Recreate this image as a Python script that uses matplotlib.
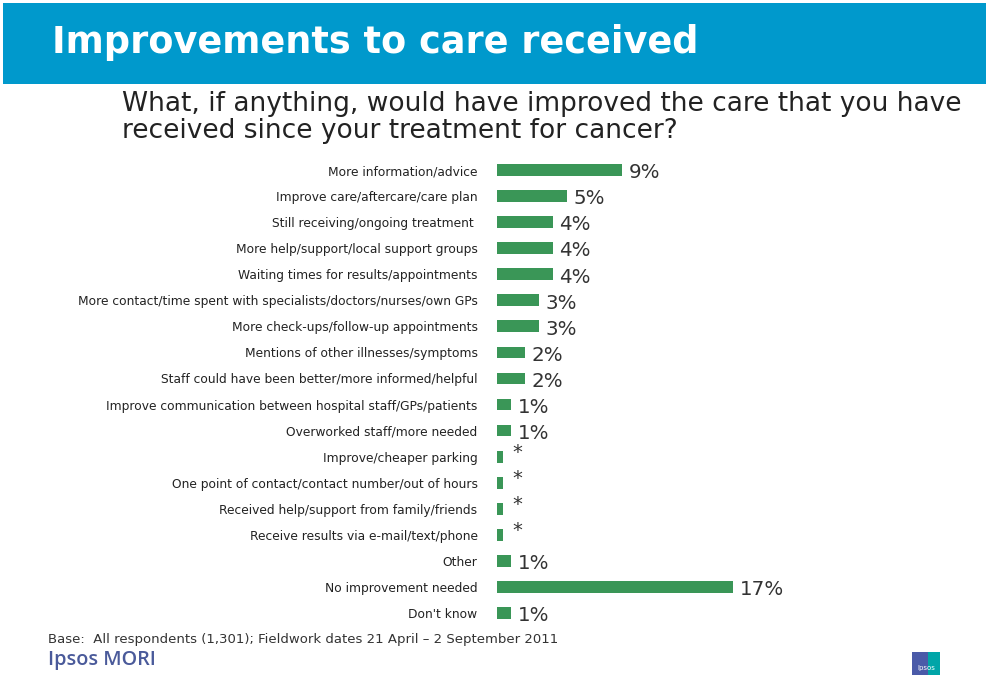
import matplotlib.pyplot as plt
from matplotlib.patches import Rectangle

# data
labels = ['More information/advice', 'Improve care/aftercare/care plan',
          'Still receiving/ongoing treatment ', 'More help/support/local support groups',
          'Waiting times for results/appointments',
          'More contact/time spent with specialists/doctors/nurses/own GPs',
          'More check-ups/follow-up appointments', 'Mentions of other illnesses/symptoms',
          'Staff could have been better/more informed/helpful',
          'Improve communication between hospital staff/GPs/patients',
          'Overworked staff/more needed', 'Improve/cheaper parking',
          'One point of contact/contact number/out of hours',
          'Received help/support from family/friends',
          'Receive results via e-mail/text/phone', 'Other',
          'No improvement needed', "Don't know"]
values = [9, 5, 4, 4, 4, 3, 3, 2, 2, 1, 1, 0.4, 0.4, 0.4, 0.4, 1, 17, 1]
value_text = ['9%', '5%', '4%', '4%', '4%', '3%', '3%', '2%', '2%', '1%', '1%',
              '*', '*', '*', '*', '1%', '17%', '1%']

plt.rcParams['font.family'] = ['DejaVu Sans']

W, H = 989, 675
fig = plt.figure(figsize=(W / 100, H / 100), dpi=100)

def fy(py):
    return 1 - py / H

# blue header band
fig.patches.append(Rectangle((3 / W, fy(84)), 983 / W, 81 / H, transform=fig.transFigure,
                             facecolor='#0099cc', edgecolor='none', zorder=0))
fig.text(52 / W, fy(53), 'Improvements to care received', color='white',
         fontsize=26.4, fontweight='bold', va='baseline', ha='left')

fig.text(122 / W, fy(111), 'What, if anything, would have improved the care that you have',
         color='#222222', fontsize=19.0, va='baseline', ha='left')
fig.text(122 / W, fy(138), 'received since your treatment for cancer?',
         color='#222222', fontsize=19.0, va='baseline', ha='left')

# bar chart
x0, x1 = 497, 850
ax = fig.add_axes([x0 / W, fy(626), (x1 - x0) / W, (626 - 157) / H])
pos = list(range(len(labels)))
ax.barh(pos, values, height=0.45, color='#3a9657')
ax.set_xlim(0, (x1 - x0) / 13.9)
ax.set_ylim(len(labels) - 0.5, -0.5)
ax.set_yticks(pos)
ax.set_yticklabels(labels, fontsize=8.8, color='#222222')
ax.tick_params(axis='y', length=0, pad=14)
ax.set_xticks([])
for s in ax.spines.values():
    s.set_visible(False)

for p, v, t in zip(pos, values, value_text):
    if t == '*':
        ax.annotate(t, (v, p), xytext=(7, 3), textcoords='offset points',
                    fontsize=14, color='#333333', va='center', ha='left')
    else:
        ax.annotate(t, (v, p), xytext=(5, -2), textcoords='offset points',
                    fontsize=14.3, color='#333333', va='center', ha='left')

# footer
fig.text(48 / W, fy(643),
         'Base:  All respondents (1,301); Fieldwork dates 21 April \u2013 2 September 2011',
         fontsize=9.55, color='#333333', va='baseline', ha='left')
fig.text(48 / W, fy(665), 'Ipsos MORI', fontsize=14.3, fontweight='semibold',
         family='Open Sans', color='#4a5a9a', va='baseline', ha='left')

# small logo
fig.patches.append(Rectangle((912 / W, fy(675)), 28 / W, 23 / H, transform=fig.transFigure,
                             facecolor='#00a5a8', edgecolor='none'))
fig.patches.append(Rectangle((912 / W, fy(675)), 16 / W, 23 / H, transform=fig.transFigure,
                             facecolor='#4a5aa8', edgecolor='none'))
fig.text(926 / W, fy(668), 'Ipsos', fontsize=5, color='white', ha='center', va='center')

fig.savefig('out.png', dpi=100, facecolor='white')
